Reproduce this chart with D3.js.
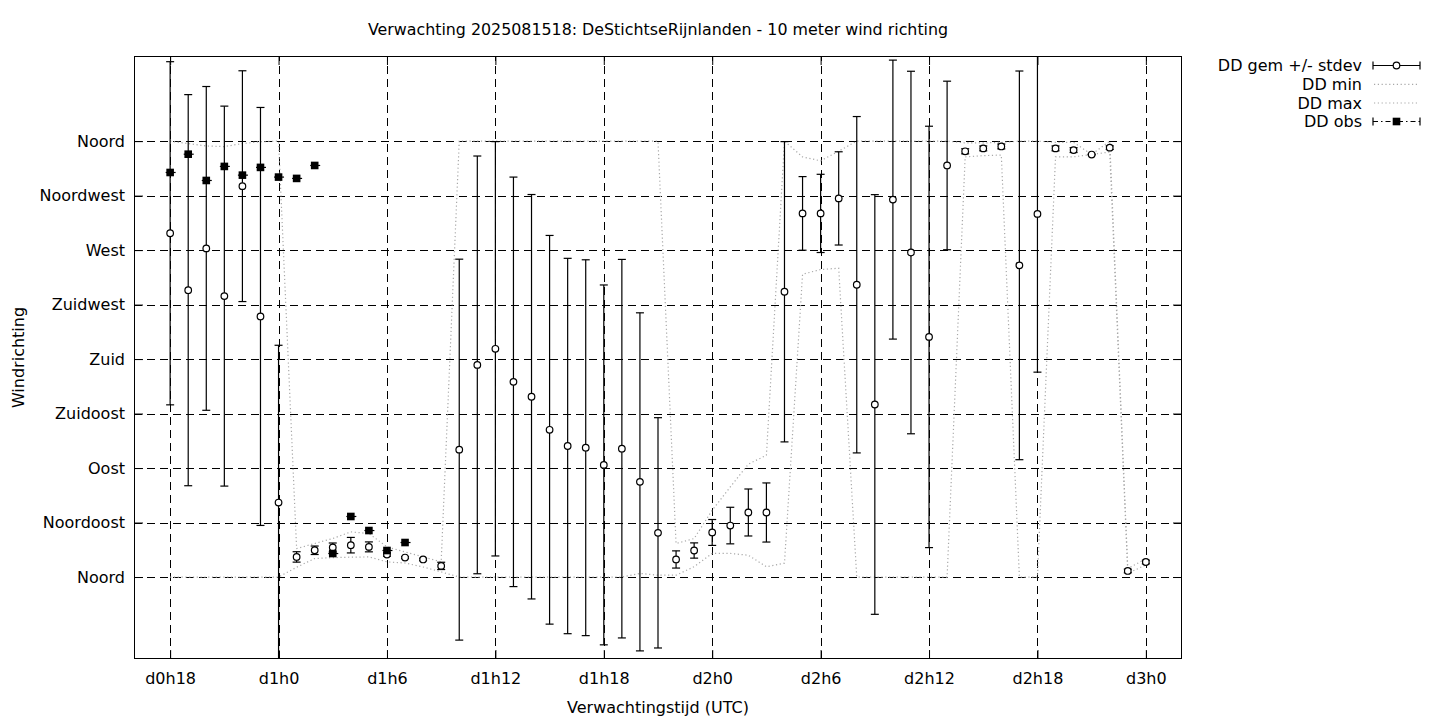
<!DOCTYPE html>
<html><head><meta charset="utf-8">
<script src="https://cdn.jsdelivr.net/npm/d3@7"></script>
<style>
body{margin:0;background:#fff;}
svg text{font-family:"DejaVu Sans",sans-serif;fill:#000;}
</style>
</head><body>
<svg id="c" width="1440" height="720"></svg>
<script>
// ---- data (hours since d0h0) ----
const hours = [18,19,20,21,22,23,24,25,26,27,28,29,30,31,32,33,34,35,36,37,38,39,40,41,42,43,44,45,46,47,48,49,50,51,52,53,54,55,56,57,58,59,60,61,62,63,64,65,66,67,68,69,70,71,72];
const meanDeg = [283.9,236.9,271.4,232.0,322.8,215.2,61.5,16.6,22.1,24.4,26.3,24.9,18.6,16.1,14.5,9.2,105.2,175.2,188.5,161.2,148.9,121.6,108.2,106.8,92.6,106.0,78.6,36.5,14.5,21.9,36.8,42.5,53.3,53.3,235.6,300.3,300.3,312.7,241.4,142.5,311.7,268.0,198.3,339.9,351.6,354.0,355.6,257.4,299.9,354.0,352.6,348.9,354.6,5.0,12.4];
const sdDeg = [141.7,161.5,133.7,156.9,95.3,172.6,129.9,4.3,3.5,3.7,6.4,4.1,1.4,0.8,1.0,3.0,157.3,172.5,171.1,169.1,167.0,160.5,155.0,155.2,148.6,156.3,139.6,95.1,7.1,6.3,10.7,15.1,19.4,24.4,124.0,30.4,32.3,38.5,138.9,173.3,115.2,149.7,174.0,69.6,2.1,2.0,2.0,160.5,130.7,2.0,2.0,0.3,1.5,1.5,1.5];
const minDeg = [0,0,0,0,0,0,0,8.1,15.3,16.0,16.4,16.6,12.5,11.6,8.3,4.2,0,0,0,0,0,0,0,0,0,0,3,1.5,1.5,8.5,19.5,19.5,18,8.5,11.5,250,254,255,0,0,0,0,0,0,347,348,348.5,0,0,347,347,349,351,3,10];
const maxDeg = [360,358,356,355.5,358,359.5,360,23.5,27.7,31.8,37.3,35.9,24.9,20.7,16.6,12.5,360,360,360,360,360,360,360,360,360,360,360,360,27.7,31.8,55.2,74.4,93.2,100.6,360,347.0,343.7,351.7,360,360,360,360,360,360,358.5,358.5,359,360,360,359,359,349,360,7,15];
const obsHours = [18,19,20,21,22,23,24,25,26,27,28,29,30,31];
const obsDeg = [334.1,349.2,327.5,339.1,331.9,338.3,330.3,329.2,339.9,19.4,50.0,38.4,21.9,28.5];
const yTickValues = [0,45,90,135,180,225,270,315,360];
const yTickLabels = ["Noord","Noordoost","Oost","Zuidoost","Zuid","Zuidwest","West","Noordwest","Noord"];
const xTickValues = [18,24,30,36,42,48,54,60,66,72];
const xTickLabels = ["d0h18","d1h0","d1h6","d1h12","d1h18","d2h0","d2h6","d2h12","d2h18","d3h0"];
const seriesNames = ["DD gem +/- stdev","DD min","DD max","DD obs"];

// ---- layout ----
const L=134, R=1182, T=56, B=659;
const FS = 16;
const svg = d3.select("#c");
const x = d3.scaleLinear().domain([16,74]).range([L,R]);
const y = d3.scaleLinear().domain([-67.7,430.3]).range([B,T]);

svg.append("rect").attr("width",1440).attr("height",720).attr("fill","#fff");
svg.append("defs").append("clipPath").attr("id","clip")
  .append("rect").attr("x",L).attr("y",T).attr("width",R-L).attr("height",B-T);

// grid
const grid = svg.append("g").attr("stroke","#000").attr("stroke-width",1).attr("stroke-dasharray","8,5").attr("shape-rendering","crispEdges");
grid.selectAll("line.h").data(yTickValues).join("line").attr("class","h")
  .attr("x1",L).attr("x2",R).attr("y1",d=>Math.round(y(d))+0.5).attr("y2",d=>Math.round(y(d))+0.5);
grid.selectAll("line.v").data(xTickValues).join("line").attr("class","v")
  .attr("y1",B).attr("y2",T).attr("x1",d=>Math.round(x(d))+0.5).attr("x2",d=>Math.round(x(d))+0.5);

// axes
const axL = svg.append("g").attr("transform",`translate(${L},0)`)
  .call(d3.axisLeft(y).tickValues(yTickValues).tickFormat((d,i)=>yTickLabels[i]).tickSizeInner(-9).tickSizeOuter(0).tickPadding(9));
const axR = svg.append("g").attr("transform",`translate(${R},0)`)
  .call(d3.axisRight(y).tickValues(yTickValues).tickFormat("").tickSizeInner(-9).tickSizeOuter(0));
const axB = svg.append("g").attr("transform",`translate(0,${B})`)
  .call(d3.axisBottom(x).tickValues(xTickValues).tickFormat((d,i)=>xTickLabels[i]).tickSizeInner(-9).tickSizeOuter(0).tickPadding(14));
const axT = svg.append("g").attr("transform",`translate(0,${T})`)
  .call(d3.axisTop(x).tickValues(xTickValues).tickFormat("").tickSizeInner(-9).tickSizeOuter(0));
[axL,axR,axB,axT].forEach(a=>{
  a.select(".domain").remove();
  a.selectAll("text").attr("font-size",FS).attr("font-family","DejaVu Sans");
  a.selectAll("line").attr("stroke","#000");
});

// plot area
const plot = svg.append("g").attr("clip-path","url(#clip)");

// min / max dotted lines
const line = (arr)=>d3.line().x((d,i)=>x(hours[i])).y(d=>y(d))(arr);
[minDeg,maxDeg].forEach(arr=>{
  plot.append("path").attr("d",line(arr)).attr("fill","none")
    .attr("stroke","#a8a8a8").attr("stroke-width",1.2).attr("stroke-dasharray","1.2,2.6");
});

// error bars
const eb = plot.append("g").attr("stroke","#000").attr("stroke-width",1.2);
hours.forEach((h,i)=>{
  const cx = x(h), lo = y(meanDeg[i]-sdDeg[i]), hi = y(meanDeg[i]+sdDeg[i]);
  eb.append("line").attr("x1",cx).attr("x2",cx).attr("y1",lo).attr("y2",hi);
  eb.append("line").attr("x1",cx-4).attr("x2",cx+4).attr("y1",lo).attr("y2",lo);
  eb.append("line").attr("x1",cx-4).attr("x2",cx+4).attr("y1",hi).attr("y2",hi);
});
plot.append("g").selectAll("circle").data(meanDeg).join("circle")
  .attr("cx",(d,i)=>x(hours[i])).attr("cy",d=>y(d)).attr("r",3.3)
  .attr("fill","#fff").attr("stroke","#000").attr("stroke-width",1.2);

// observations
const og = plot.append("g");
og.selectAll("line").data(obsDeg).join("line")
  .attr("x1",(d,i)=>x(obsHours[i])-4.5).attr("x2",(d,i)=>x(obsHours[i])+5.5)
  .attr("y1",d=>y(d)).attr("y2",d=>y(d)).attr("stroke","#000").attr("stroke-width",1.2);
og.selectAll("rect").data(obsDeg).join("rect")
  .attr("x",(d,i)=>x(obsHours[i])-3.8).attr("y",d=>y(d)-3.8).attr("width",7.6).attr("height",7.6).attr("fill","#000");

// border
svg.append("rect").attr("x",L+0.5).attr("y",T+0.5).attr("width",R-L-1).attr("height",B-T-1)
  .attr("fill","none").attr("stroke","#000").attr("stroke-width",1);

// titles
svg.append("text").attr("x",(L+R)/2).attr("y",35).attr("text-anchor","middle").attr("font-size",15.85)
  .text("Verwachting 2025081518: DeStichtseRijnlanden - 10 meter wind richting");
svg.append("text").attr("x",(L+R)/2).attr("y",713).attr("text-anchor","middle").attr("font-size",FS)
  .text("Verwachtingstijd (UTC)");
svg.append("text").attr("transform",`translate(24,${(T+B)/2}) rotate(-90)`).attr("text-anchor","middle").attr("font-size",FS)
  .text("Windrichting");

// legend
const lg = svg.append("g");
const lx0 = 1373, lx1 = 1420, tx = 1362;
const rowY = [65.5, 84.3, 103, 121.5];
seriesNames.forEach((n,i)=>{
  lg.append("text").attr("x",tx).attr("y",rowY[i]).attr("dy","0.36em").attr("text-anchor","end").attr("font-size",FS).text(n);
});
// errorbar sample
lg.append("line").attr("x1",lx0).attr("x2",lx1).attr("y1",rowY[0]).attr("y2",rowY[0]).attr("stroke","#000").attr("stroke-width",1.2);
[lx0,lx1].forEach(xx=>lg.append("line").attr("x1",xx).attr("x2",xx).attr("y1",rowY[0]-4).attr("y2",rowY[0]+4).attr("stroke","#000").attr("stroke-width",1.2));
lg.append("circle").attr("cx",(lx0+lx1)/2).attr("cy",rowY[0]).attr("r",3.3).attr("fill","#fff").attr("stroke","#000").attr("stroke-width",1.2);
// min / max samples
[1,2].forEach(i=>lg.append("line").attr("x1",lx0+1).attr("x2",lx1-1).attr("y1",rowY[i]).attr("y2",rowY[i])
  .attr("stroke","#a8a8a8").attr("stroke-width",1.2).attr("stroke-dasharray","1.2,2.6"));
// obs sample
lg.append("line").attr("x1",lx0).attr("x2",lx1).attr("y1",rowY[3]).attr("y2",rowY[3]).attr("stroke","#000").attr("stroke-width",1.2).attr("stroke-dasharray","5,3,1.5,3");
[lx0,lx1].forEach(xx=>lg.append("line").attr("x1",xx).attr("x2",xx).attr("y1",rowY[3]-4).attr("y2",rowY[3]+4).attr("stroke","#000").attr("stroke-width",1.2));
lg.append("rect").attr("x",(lx0+lx1)/2-3.8).attr("y",rowY[3]-3.8).attr("width",7.6).attr("height",7.6).attr("fill","#000");
</script>
</body></html>
